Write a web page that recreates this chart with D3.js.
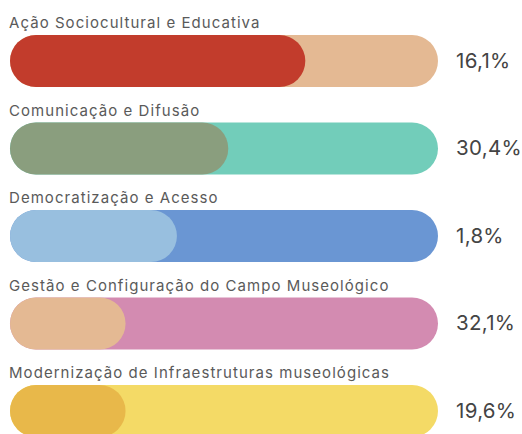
<!DOCTYPE html>
<html>
<head>
<meta charset="utf-8">
<script src="https://cdn.jsdelivr.net/npm/d3@7"></script>
<style>
  html, body { margin: 0; padding: 0; background: #ffffff; }
  svg { display: block; }
</style>
</head>
<body>
<svg id="chart" width="522" height="434"></svg>
<script>
// ---- data ----
const categories = [
  "Ação Sociocultural e Educativa",
  "Comunicação e Difusão",
  "Democratização e Acesso",
  "Gestão e Configuração do Campo Museológico",
  "Modernização de Infraestruturas museológicas"
];
const valueLabels = ["16,1%", "30,4%", "1,8%", "32,1%", "19,6%"];
const fillValues = [69, 51, 39, 27, 27];   // inner bar length, % of track
const trackMax = 100;
const innerColors = ["#c23c2c", "#8a9e7e", "#98bfdf", "#e4b993", "#e8b84a"];
const outerColors = ["#e4b993", "#72cdba", "#6a96d3", "#d38bb1", "#f4da66"];

// ---- layout ----
const svg = d3.select("#chart");
const left = 10, right = 438;
const barH = 52;
const firstTop = 35, step = 87.5;

const x = d3.scaleLinear().domain([0, trackMax]).range([left, right]);
const y = d3.scaleBand()
  .domain(categories)
  .range([firstTop, firstTop + step * categories.length])
  .paddingInner(0)
  .paddingOuter(0);

const g = svg.selectAll("g.row")
  .data(categories)
  .join("g")
  .attr("class", "row");

// labels
g.append("text")
  .attr("x", left - 1)
  .attr("y", d => y(d) - 7)
  .attr("font-family", "Inter, 'Open Sans', sans-serif")
  .attr("font-size", 15)
  .attr("letter-spacing", 1.05)
  .attr("fill", "#5a5a5a")
  .text(d => d);

// track
g.append("rect")
  .attr("x", x(0))
  .attr("y", d => y(d))
  .attr("width", x(trackMax) - x(0))
  .attr("height", barH)
  .attr("rx", barH / 2)
  .attr("fill", (d, i) => outerColors[i]);

// inner fill
g.append("rect")
  .attr("x", x(0))
  .attr("y", d => y(d))
  .attr("width", (d, i) => x(fillValues[i]) - x(0))
  .attr("height", barH)
  .attr("rx", barH / 2)
  .attr("fill", (d, i) => innerColors[i]);

// value labels
g.append("text")
  .attr("x", 456)
  .attr("y", d => y(d) + barH / 2)
  .attr("dy", "0.33em")
  .attr("font-family", "Inter, 'Open Sans', sans-serif")
  .attr("font-size", 20.5)
  .attr("letter-spacing", 0.3)
  .attr("fill", "#444")
  .text((d, i) => valueLabels[i]);
</script>
</body>
</html>
